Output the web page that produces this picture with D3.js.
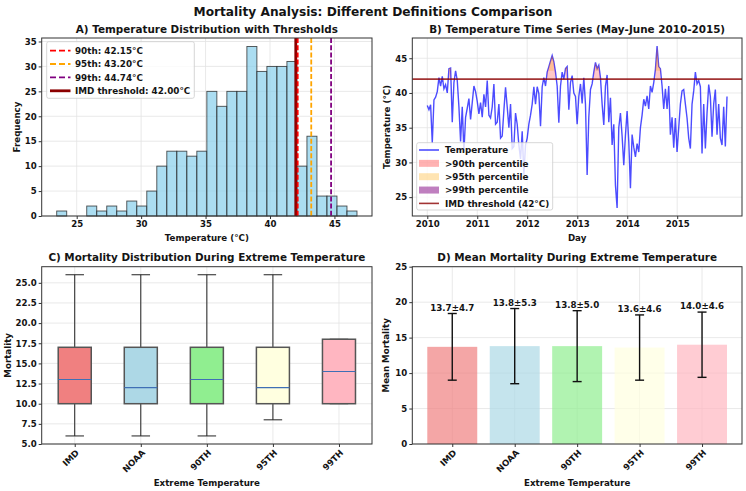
<!DOCTYPE html>
<meta charset="utf-8">
<body style="margin:0">
<script src="https://d3js.org/d3.v7.min.js"></script>
<div id="chart"></div>
<script>

// ---------- data ----------
// A) histogram of daily max temperature (30 bins)
var histCounts = [1,0,0,2,1,2,1,3,2,5,10,13,13,12,13,25,22,25,25,34,29,30,30,31,10,16,4,4,2,1];
var histRange = [23.45, 46.75];
var pctLabels = ["90th", "95th", "99th"];
var pctValues = [42.15, 43.20, 44.74];
var pctColors = ["red", "orange", "purple"];
var imdThreshold = 42.0;

// B) temperature series, evenly spaced samples between the two dates
var seriesStart = "2010-01-01", seriesEnd = "2015-12-31";
var temp2010 = [38.2,37.6,38.3,32.8,39.0,39.4,40.2,42.2,41.0,42.4,40.6,41.2,40.0,43.5,43.6,35.8,41.5,43.2,41.8,38.0,33.0,38.0,31.5,36.5,37.8,39.2,36.2,38.6,41.0,40.2];
var temp2011 = [38.8,37.0,38.6,36.5,39.8,38.0,41.8,36.8,36.4,38.0,41.3,35.5,35.8,38.4,33.5,33.8,37.5,40.8,38.0,35.0,38.4,32.0,32.3,37.1,35.5,32.5,30.5,34.5,28.2,32.5];
var temp2012 = [33.5,35.5,36.8,38.4,40.9,38.4,40.9,39.9,35.2,40.9,42.2,41.0,43.0,43.8,44.6,45.4,44.5,43.0,41.0,35.7,41.0,43.0,42.0,43.5,43.8,37.6,41.5,42.5,40.0,39.5];
var temp2013 = [35.5,39.5,41.3,38.5,42.2,38.4,28.2,36.5,40.5,41.3,43.0,44.4,43.5,44.0,42.2,38.4,35.4,41.0,42.6,35.8,39.3,32.5,35.5,26.7,23.45,35.0,37.1,33.8,29.6,33.9];
var temp2014 = [37.4,33.0,26.3,34.0,32.2,30.8,32.7,31.5,35.0,36.8,39.1,38.1,39.6,37.7,41.0,40.1,41.5,43.4,46.75,43.8,43.5,41.0,37.7,40.6,37.7,41.0,34.0,36.5,32.1,36.4];
var temp2015 = [31.5,35.0,38.4,40.3,40.5,38.4,36.4,33.5,32.0,38.4,40.3,43.0,41.3,41.8,40.9,31.3,38.4,32.0,37.1,41.2,39.5,33.7,38.4,40.5,34.0,38.4,33.5,32.5,38.0,32.3,39.5];
var yearTicks = [2010, 2011, 2012, 2013, 2014, 2015];

// C) and D) mortality by definition
var groups = ["IMD", "NOAA", "90TH", "95TH", "99TH"];
var groupColors = ["lightcoral", "lightblue", "lightgreen", "lightyellow", "lightpink"];
var boxLow = [6, 6, 6, 8, 10];
var boxQ1 = [10, 10, 10, 10, 10];
var boxMedian = [13, 12, 13, 12, 14];
var boxQ3 = [17, 17, 17, 17, 18];
var boxHigh = [26, 26, 26, 26, 18];
var meanMortality = [13.7, 13.8, 13.8, 13.6, 14.0];
var sdMortality = [4.7, 5.3, 5.0, 4.6, 4.6];

// ---------- layout ----------
var W = 746, H = 491;
var boxA = {l: 41.7, r: 372, t: 38, b: 216},
    boxB = {l: 412.3, r: 742, t: 38, b: 216},
    boxC = {l: 41.7, r: 372, t: 266.7, b: 444},
    boxD = {l: 412.3, r: 742, t: 266.7, b: 444};
var tickFont = 8.6, labelFont = 8.7, titleFont = 10.4, legendFont = 8.8;
var ink = "#141414";

var svg = d3.select("#chart").append("svg")
    .attr("width", W).attr("height", H)
    .style("font-family", "'DejaVu Sans', sans-serif")
    .style("font-weight", "bold");
svg.append("rect").attr("width", W).attr("height", H).attr("fill", "white");

function grid(box, x, y, xv, yv) {
  var g = svg.append("g").attr("stroke", "#e3e3e3").attr("stroke-width", 0.8);
  g.selectAll(null).data(xv).enter().append("line")
    .attr("x1", function(d) { return x(d); }).attr("x2", function(d) { return x(d); })
    .attr("y1", box.t).attr("y2", box.b);
  g.selectAll(null).data(yv).enter().append("line")
    .attr("y1", function(d) { return y(d); }).attr("y2", function(d) { return y(d); })
    .attr("x1", box.l).attr("x2", box.r);
}

function axes(box, xAxis, yAxis) {
  var gx = svg.append("g").attr("transform", "translate(0," + box.b + ")")
    .call(xAxis.tickSize(3).tickPadding(2).tickSizeOuter(0));
  var gy = svg.append("g").attr("transform", "translate(" + box.l + ",0)")
    .call(yAxis.tickSize(3).tickPadding(2).tickSizeOuter(0));
  [gx, gy].forEach(function(g) {
    g.select(".domain").remove();
    g.selectAll("line").attr("stroke", "#333");
    g.selectAll("text").attr("fill", ink).style("font-size", tickFont + "px")
      .style("font-family", "'DejaVu Sans', sans-serif").style("font-weight", "bold");
  });
  svg.append("rect").attr("x", box.l).attr("y", box.t)
    .attr("width", box.r - box.l).attr("height", box.b - box.t)
    .attr("fill", "none").attr("stroke", "#333").attr("stroke-width", 1);
  return gx;
}

function titles(box, title, xlab, ylab, titleY, xlabY, ylabX) {
  var cx = (box.l + box.r) / 2, cy = (box.t + box.b) / 2;
  svg.append("text").attr("x", cx).attr("y", titleY).attr("text-anchor", "middle")
    .style("font-size", titleFont + "px").attr("fill", ink).text(title);
  svg.append("text").attr("x", cx).attr("y", xlabY).attr("text-anchor", "middle")
    .style("font-size", labelFont + "px").attr("fill", ink).text(xlab);
  svg.append("text").attr("transform", "translate(" + ylabX + "," + cy + ") rotate(-90)")
    .attr("text-anchor", "middle").style("font-size", labelFont + "px").attr("fill", ink).text(ylab);
}

function legendBox(x, y, w, h) {
  svg.append("rect").attr("x", x).attr("y", y).attr("width", w).attr("height", h)
    .attr("rx", 2).attr("fill", "white").attr("fill-opacity", 0.8)
    .attr("stroke", "#cccccc").attr("stroke-width", 0.8);
}

// main title
svg.append("text").attr("x", W / 2).attr("y", 16).attr("text-anchor", "middle")
  .style("font-size", "12.2px").attr("fill", ink)
  .text("Mortality Analysis: Different Definitions Comparison");

// ---------- A) histogram ----------
var hPad = 0.05 * (histRange[1] - histRange[0]);
var xA = d3.scaleLinear().domain([histRange[0] - hPad, histRange[1] + hPad]).range([boxA.l, boxA.r]);
var yA = d3.scaleLinear().domain([0, d3.max(histCounts) * 1.05]).range([boxA.b, boxA.t]);
var binW = (histRange[1] - histRange[0]) / histCounts.length;
var xTicksA = [25, 30, 35, 40, 45], yTicksA = [0, 5, 10, 15, 20, 25, 30, 35];

grid(boxA, xA, yA, xTicksA, yTicksA);

svg.append("g").selectAll("rect").data(histCounts).enter().append("rect")
  .attr("x", function(d, i) { return xA(histRange[0] + i * binW); })
  .attr("width", function(d, i) { return xA(histRange[0] + (i + 1) * binW) - xA(histRange[0] + i * binW); })
  .attr("y", function(d) { return yA(d); })
  .attr("height", function(d) { return yA(0) - yA(d); })
  .attr("fill", "skyblue").attr("fill-opacity", 0.7)
  .attr("stroke", "#222").attr("stroke-opacity", 0.8).attr("stroke-width", 0.9);

svg.append("line").attr("x1", xA(imdThreshold)).attr("x2", xA(imdThreshold))
  .attr("y1", boxA.t).attr("y2", boxA.b).attr("stroke", "darkred").attr("stroke-width", 2.8);
pctValues.forEach(function(v, i) {
  svg.append("line").attr("x1", xA(v)).attr("x2", xA(v)).attr("y1", boxA.t).attr("y2", boxA.b)
    .attr("stroke", pctColors[i]).attr("stroke-width", 1.8).attr("stroke-dasharray", "5,2.2");
});

axes(boxA, d3.axisBottom(xA).tickValues(xTicksA), d3.axisLeft(yA).tickValues(yTicksA));
titles(boxA, "A) Temperature Distribution with Thresholds", "Temperature (°C)", "Frequency", 33, 240.5, 19.5);

legendBox(46.7, 41.7, 147.6, 56.6);
var legA = pctLabels.map(function(l, i) {
  return {text: l + ": " + d3.format(".2f")(pctValues[i]) + "°C", color: pctColors[i], dash: "6,3", w: 1.8};
});
legA.push({text: "IMD threshold: " + d3.format(".2f")(imdThreshold) + "°C", color: "darkred", dash: null, w: 2.8});
legA.forEach(function(d, i) {
  var yy = 50.6 + i * 13.4;
  svg.append("line").attr("x1", 50).attr("x2", 70.5).attr("y1", yy).attr("y2", yy)
    .attr("stroke", d.color).attr("stroke-width", d.w).attr("stroke-dasharray", d.dash);
  svg.append("text").attr("x", 75).attr("y", yy).attr("dy", "0.36em")
    .style("font-size", legendFont + "px").attr("fill", ink).text(d.text);
});

// ---------- B) time series ----------
var parse = d3.timeParse("%Y-%m-%d");
var t0 = parse(seriesStart), t1 = parse(seriesEnd);
var temps = [].concat(temp2010, temp2011, temp2012, temp2013, temp2014, temp2015);
var series = temps.map(function(v, i) {
  return {date: new Date(+t0 + i * (t1 - t0) / (temps.length - 1)), v: v};
});
var span = t1 - t0;
var xB = d3.scaleTime().domain([new Date(+t0 - 0.05 * span), new Date(+t1 + 0.05 * span)]).range([boxB.l, boxB.r]);
var tMin = d3.min(temps), tMax = d3.max(temps), tPad = 0.05 * (tMax - tMin);
var yB = d3.scaleLinear().domain([tMin - tPad, tMax + tPad]).range([boxB.b, boxB.t]);
var xTicksB = yearTicks.map(function(y) { return new Date(y, 0, 1); });
var yTicksB = [25, 30, 35, 40, 45];

grid(boxB, xB, yB, xTicksB, yTicksB);

svg.append("path").datum(series)
  .attr("d", d3.line().x(function(d) { return xB(d.date); }).y(function(d) { return yB(d.v); }))
  .attr("fill", "none").attr("stroke", "blue").attr("stroke-opacity", 0.7).attr("stroke-width", 1.4);

// like fill_between(where=...): only runs of consecutive points above the threshold
var fillAlpha = [0.3, 0.3, 0.5];
var areaAlpha = [0.22, 0.25, 0.25];
pctValues.forEach(function(thr, i) {
  var area = d3.area()
    .defined(function(d) { return d.v > thr; })
    .x(function(d) { return xB(d.date); })
    .y0(yB(thr))
    .y1(function(d) { return yB(d.v); });
  svg.append("path").datum(series).attr("d", area)
    .attr("fill", pctColors[i]).attr("fill-opacity", areaAlpha[i]);
});

svg.append("line").attr("x1", boxB.l).attr("x2", boxB.r)
  .attr("y1", yB(imdThreshold)).attr("y2", yB(imdThreshold))
  .attr("stroke", "darkred").attr("stroke-opacity", 0.8).attr("stroke-width", 1.8);

axes(boxB, d3.axisBottom(xB).tickValues(xTicksB).tickFormat(d3.timeFormat("%Y")),
     d3.axisLeft(yB).tickValues(yTicksB));
titles(boxB, "B) Temperature Time Series (May-June 2010-2015)", "Day", "Temperature (°C)", 33, 240.5, 389.5);

legendBox(416.7, 142.7, 136, 67.3);
var legB = [{text: "Temperature", type: "line", color: "blue", op: 0.7}];
pctLabels.forEach(function(l, i) {
  legB.push({text: ">" + l + " percentile", type: "patch", color: pctColors[i], op: fillAlpha[i]});
});
legB.push({text: "IMD threshold (" + imdThreshold + "°C)", type: "line", color: "darkred", op: 0.8});
legB.forEach(function(d, i) {
  var yy = 150 + i * 13.35;
  if (d.type === "line") {
    svg.append("line").attr("x1", 419).attr("x2", 439).attr("y1", yy).attr("y2", yy)
      .attr("stroke", d.color).attr("stroke-opacity", d.op).attr("stroke-width", 1.6);
  } else {
    svg.append("rect").attr("x", 419).attr("y", yy - 3.5).attr("width", 20).attr("height", 7)
      .attr("fill", d.color).attr("fill-opacity", d.op);
  }
  svg.append("text").attr("x", 445).attr("y", yy).attr("dy", "0.36em")
    .style("font-size", legendFont + "px").attr("fill", ink).text(d.text);
});

// ---------- C) box plots ----------
var idx = groups.map(function(g, i) { return i + 1; });
var xC = d3.scaleLinear().domain([0.5, groups.length + 0.5]).range([boxC.l, boxC.r]);
var yC = d3.scaleLinear().domain([5, 27]).range([boxC.b, boxC.t]);
var yTicksC = [5, 7.5, 10, 12.5, 15, 17.5, 20, 22.5, 25];

grid(boxC, xC, yC, idx, yTicksC);

var bw = 0.25, cw = 0.14;
groups.forEach(function(g, i) {
  var c = i + 1;
  var gg = svg.append("g");
  gg.append("line").attr("x1", xC(c)).attr("x2", xC(c)).attr("y1", yC(boxQ3[i])).attr("y2", yC(boxHigh[i]))
    .attr("stroke", "#222").attr("stroke-width", 1);
  gg.append("line").attr("x1", xC(c)).attr("x2", xC(c)).attr("y1", yC(boxQ1[i])).attr("y2", yC(boxLow[i]))
    .attr("stroke", "#222").attr("stroke-width", 1);
  [boxLow[i], boxHigh[i]].forEach(function(v) {
    gg.append("line").attr("x1", xC(c - cw)).attr("x2", xC(c + cw)).attr("y1", yC(v)).attr("y2", yC(v))
      .attr("stroke", "#222").attr("stroke-width", 1);
  });
  gg.append("rect").attr("x", xC(c - bw)).attr("width", xC(c + bw) - xC(c - bw))
    .attr("y", yC(boxQ3[i])).attr("height", yC(boxQ1[i]) - yC(boxQ3[i]))
    .attr("fill", groupColors[i]).attr("stroke", "#555").attr("stroke-width", 1.5);
  gg.append("line").attr("x1", xC(c - bw)).attr("x2", xC(c + bw))
    .attr("y1", yC(boxMedian[i])).attr("y2", yC(boxMedian[i]))
    .attr("stroke", "#3f6fb5").attr("stroke-width", 1.1);
});

var gxC = axes(boxC, d3.axisBottom(xC).tickValues(idx).tickFormat(function(d) { return groups[d - 1]; }),
     d3.axisLeft(yC).tickValues(yTicksC).tickFormat(d3.format(".1f")));
gxC.selectAll("text").attr("x", 0).attr("y", 0).attr("dy", 0)
  .attr("transform", "translate(4.4,9.4) rotate(-45)").style("text-anchor", "end");
titles(boxC, "C) Mortality Distribution During Extreme Temperature", "Extreme Temperature", "Mortality", 260.5, 486, 10.5);

// ---------- D) mean mortality bars ----------
var xD = d3.scaleLinear().domain([-0.64, groups.length - 0.36]).range([boxD.l, boxD.r]);
var yD = d3.scaleLinear().domain([0, 25]).range([boxD.b, boxD.t]);
var idxD = groups.map(function(g, i) { return i; });
var yTicksD = [0, 5, 10, 15, 20, 25];

grid(boxD, xD, yD, idxD, yTicksD);

svg.append("g").selectAll("rect").data(meanMortality).enter().append("rect")
  .attr("x", function(d, i) { return xD(i - 0.4); })
  .attr("width", function(d, i) { return xD(i + 0.4) - xD(i - 0.4); })
  .attr("y", function(d) { return yD(d); })
  .attr("height", function(d) { return yD(0) - yD(d); })
  .attr("fill", function(d, i) { return groupColors[i]; }).attr("fill-opacity", 0.7);

meanMortality.forEach(function(m, i) {
  var lo = m - sdMortality[i], hi = m + sdMortality[i];
  var g = svg.append("g").attr("stroke", "#111").attr("stroke-width", 1.4);
  g.append("line").attr("x1", xD(i)).attr("x2", xD(i)).attr("y1", yD(lo)).attr("y2", yD(hi));
  [lo, hi].forEach(function(v) {
    g.append("line").attr("x1", xD(i) - 4.5).attr("x2", xD(i) + 4.5).attr("y1", yD(v)).attr("y2", yD(v));
  });
  svg.append("text").attr("x", xD(i)).attr("y", yD(hi) - 3).attr("text-anchor", "middle")
    .style("font-size", "8.7px").attr("fill", ink)
    .text(d3.format(".1f")(m) + "±" + d3.format(".1f")(sdMortality[i]));
});

var gxD = axes(boxD, d3.axisBottom(xD).tickValues(idxD).tickFormat(function(d) { return groups[d]; }),
     d3.axisLeft(yD).tickValues(yTicksD));
gxD.selectAll("text").attr("x", 0).attr("y", 0).attr("dy", 0)
  .attr("transform", "translate(4.4,9.4) rotate(-45)").style("text-anchor", "end");
titles(boxD, "D) Mean Mortality During Extreme Temperature", "Extreme Temperature", "Mean Mortality", 260.5, 486, 388.5);

</script>
</body>
